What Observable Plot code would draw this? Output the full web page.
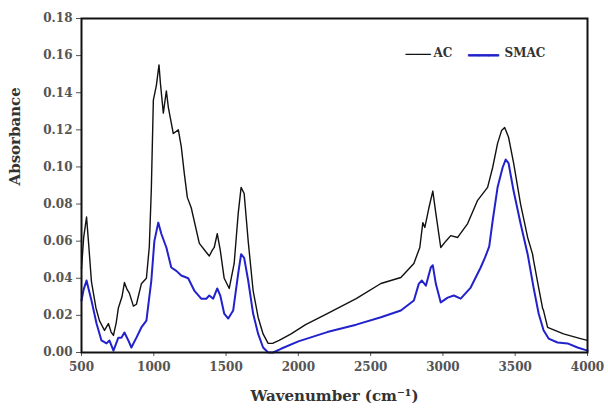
<!DOCTYPE html>
<html>
<head>
<meta charset="utf-8">
<script src="https://cdn.jsdelivr.net/npm/d3@7"></script>
<script src="https://cdn.jsdelivr.net/npm/@observablehq/plot@0.6"></script>
<style>
  html, body { margin: 0; padding: 0; background: #fff; }
  #chart svg { display: block; }
</style>
</head>
<body>
<div id="chart"></div>
<script>
// FTIR spectra: activated carbon (AC) and surface-modified activated carbon (SMAC)
const acWave = [500, 515, 535, 550, 569, 600, 624, 645, 659, 686, 705, 721, 740, 755, 780, 797, 815, 831, 859, 880, 914, 949, 969, 983, 997, 1018, 1036, 1046, 1066, 1087, 1101, 1135, 1170, 1190, 1211, 1232, 1259, 1315, 1363, 1384, 1404, 1418, 1439, 1460, 1487, 1522, 1556, 1584, 1604, 1625, 1653, 1687, 1722, 1756, 1791, 1825, 1867, 1950, 2050, 2200, 2400, 2571, 2709, 2799, 2840, 2861, 2875, 2903, 2930, 2951, 2985, 3020, 3054, 3102, 3171, 3240, 3309, 3344, 3378, 3406, 3427, 3454, 3489, 3537, 3586, 3620, 3627, 3662, 3689, 3696, 3724, 3834, 3952, 4000];
const acAbs = [0.045, 0.062, 0.073, 0.058, 0.038, 0.024, 0.0172, 0.014, 0.0119, 0.0156, 0.011, 0.0092, 0.016, 0.024, 0.030, 0.0377, 0.034, 0.032, 0.025, 0.026, 0.037, 0.040, 0.057, 0.088, 0.136, 0.144, 0.155, 0.145, 0.129, 0.141, 0.132, 0.118, 0.120, 0.111, 0.0965, 0.0836, 0.078, 0.0588, 0.054, 0.052, 0.055, 0.0566, 0.064, 0.055, 0.040, 0.0345, 0.048, 0.075, 0.089, 0.0857, 0.060, 0.0334, 0.0189, 0.010, 0.0049, 0.005, 0.0065, 0.010, 0.015, 0.021, 0.029, 0.0372, 0.0404, 0.048, 0.0566, 0.070, 0.0674, 0.078, 0.087, 0.075, 0.0566, 0.060, 0.063, 0.062, 0.0695, 0.082, 0.089, 0.0997, 0.1127, 0.1197, 0.1213, 0.116, 0.102, 0.080, 0.062, 0.053, 0.0496, 0.035, 0.024, 0.0226, 0.0135, 0.010, 0.0075, 0.0065];

const smacWave = [500, 515, 535, 550, 569, 604, 638, 673, 693, 721, 755, 776, 797, 824, 845, 880, 914, 949, 983, 1004, 1031, 1052, 1087, 1121, 1156, 1190, 1238, 1280, 1328, 1363, 1384, 1411, 1439, 1460, 1487, 1515, 1549, 1584, 1604, 1625, 1653, 1687, 1722, 1756, 1791, 1825, 1880, 2000, 2200, 2400, 2571, 2709, 2799, 2833, 2854, 2882, 2916, 2930, 2951, 2985, 3033, 3075, 3123, 3192, 3261, 3290, 3320, 3344, 3378, 3413, 3434, 3454, 3489, 3537, 3586, 3627, 3662, 3696, 3731, 3793, 3862, 3931, 4000];
const smacAbs = [0.028, 0.034, 0.0388, 0.034, 0.028, 0.0156, 0.0065, 0.0049, 0.0065, 0.001, 0.008, 0.008, 0.0108, 0.0065, 0.0027, 0.008, 0.0135, 0.0172, 0.0388, 0.060, 0.070, 0.064, 0.0566, 0.0458, 0.044, 0.0415, 0.040, 0.0334, 0.029, 0.029, 0.0307, 0.029, 0.0345, 0.0307, 0.021, 0.0183, 0.0226, 0.0426, 0.053, 0.051, 0.0388, 0.021, 0.010, 0.0027, 0.0, 0.0, 0.002, 0.006, 0.011, 0.015, 0.019, 0.0226, 0.028, 0.037, 0.0388, 0.036, 0.0458, 0.047, 0.037, 0.027, 0.0296, 0.0307, 0.029, 0.035, 0.0458, 0.051, 0.057, 0.071, 0.089, 0.0997, 0.104, 0.102, 0.087, 0.0695, 0.053, 0.035, 0.021, 0.012, 0.0075, 0.0054, 0.0049, 0.0027, 0.001];

const seriesNames = ["AC", "SMAC"];
const seriesColors = ["#111111", "#2222cc"];
const xTicks = [500, 1000, 1500, 2000, 2500, 3000, 3500, 4000];
const yTicks = [0, 0.02, 0.04, 0.06, 0.08, 0.10, 0.12, 0.14, 0.16, 0.18];

const ac = acWave.map((w, i) => ({wave: w, abs: acAbs[i]}));
const smac = smacWave.map((w, i) => ({wave: w, abs: smacAbs[i]}));

const font = "'DejaVu Serif', serif";
const swatchFont = "'DejaVu Sans', sans-serif";

const chart = Plot.plot({
  width: 608,
  height: 411,
  marginLeft: 81,
  marginRight: 21,
  marginTop: 18,
  marginBottom: 59,
  style: {fontFamily: font, fontSize: "12px", fontWeight: "bold", color: "#555", background: "#fff"},
  x: {domain: [500, 4000], ticks: xTicks, tickFormat: d3.format("d"), tickSize: 4, tickPadding: 6, label: null},
  y: {domain: [0, 0.18], ticks: yTicks, tickFormat: d3.format(".2f"), tickSize: 5, tickPadding: 4, label: null},
  marks: [
    Plot.line(smac, {x: "wave", y: "abs", stroke: seriesColors[1], strokeWidth: 2}),
    Plot.line(ac, {x: "wave", y: "abs", stroke: seriesColors[0], strokeWidth: 1.4}),
    Plot.frame({stroke: "#111", strokeWidth: 2}),
    // legend swatches (box-drawing glyphs) and names, anchored to the frame's top-right corner
    Plot.text(["\u2500\u2500\u2500"], {frameAnchor: "top-right", dx: -182, dy: 31, textAnchor: "start", fill: seriesColors[0], fontFamily: swatchFont, fontSize: 14, fontWeight: "normal"}),
    Plot.text([seriesNames[0]], {frameAnchor: "top-right", dx: -154, dy: 30, textAnchor: "start", fill: "#333", fontSize: 12, fontWeight: "bold"}),
    Plot.text(["\u2500\u2500\u2500"], {frameAnchor: "top-right", dx: -119, dy: 31, textAnchor: "start", fill: seriesColors[1], stroke: seriesColors[1], strokeWidth: 0.9, fontFamily: swatchFont, fontSize: 16.6, fontWeight: "normal"}),
    Plot.text([seriesNames[1]], {frameAnchor: "top-right", dx: -83, dy: 30, textAnchor: "start", fill: "#333", fontSize: 12, fontWeight: "bold"}),
    Plot.text(["Wavenumber (cm\u207B\u00B9)"], {frameAnchor: "bottom", dy: 48, fill: "#333", fontSize: 15, fontWeight: "bold"}),
    Plot.text(["Absorbance"], {frameAnchor: "left", dx: -66, rotate: -90, fill: "#333", fontSize: 15, fontWeight: "bold"})
  ]
});

document.getElementById("chart").appendChild(chart);
</script>
</body>
</html>
